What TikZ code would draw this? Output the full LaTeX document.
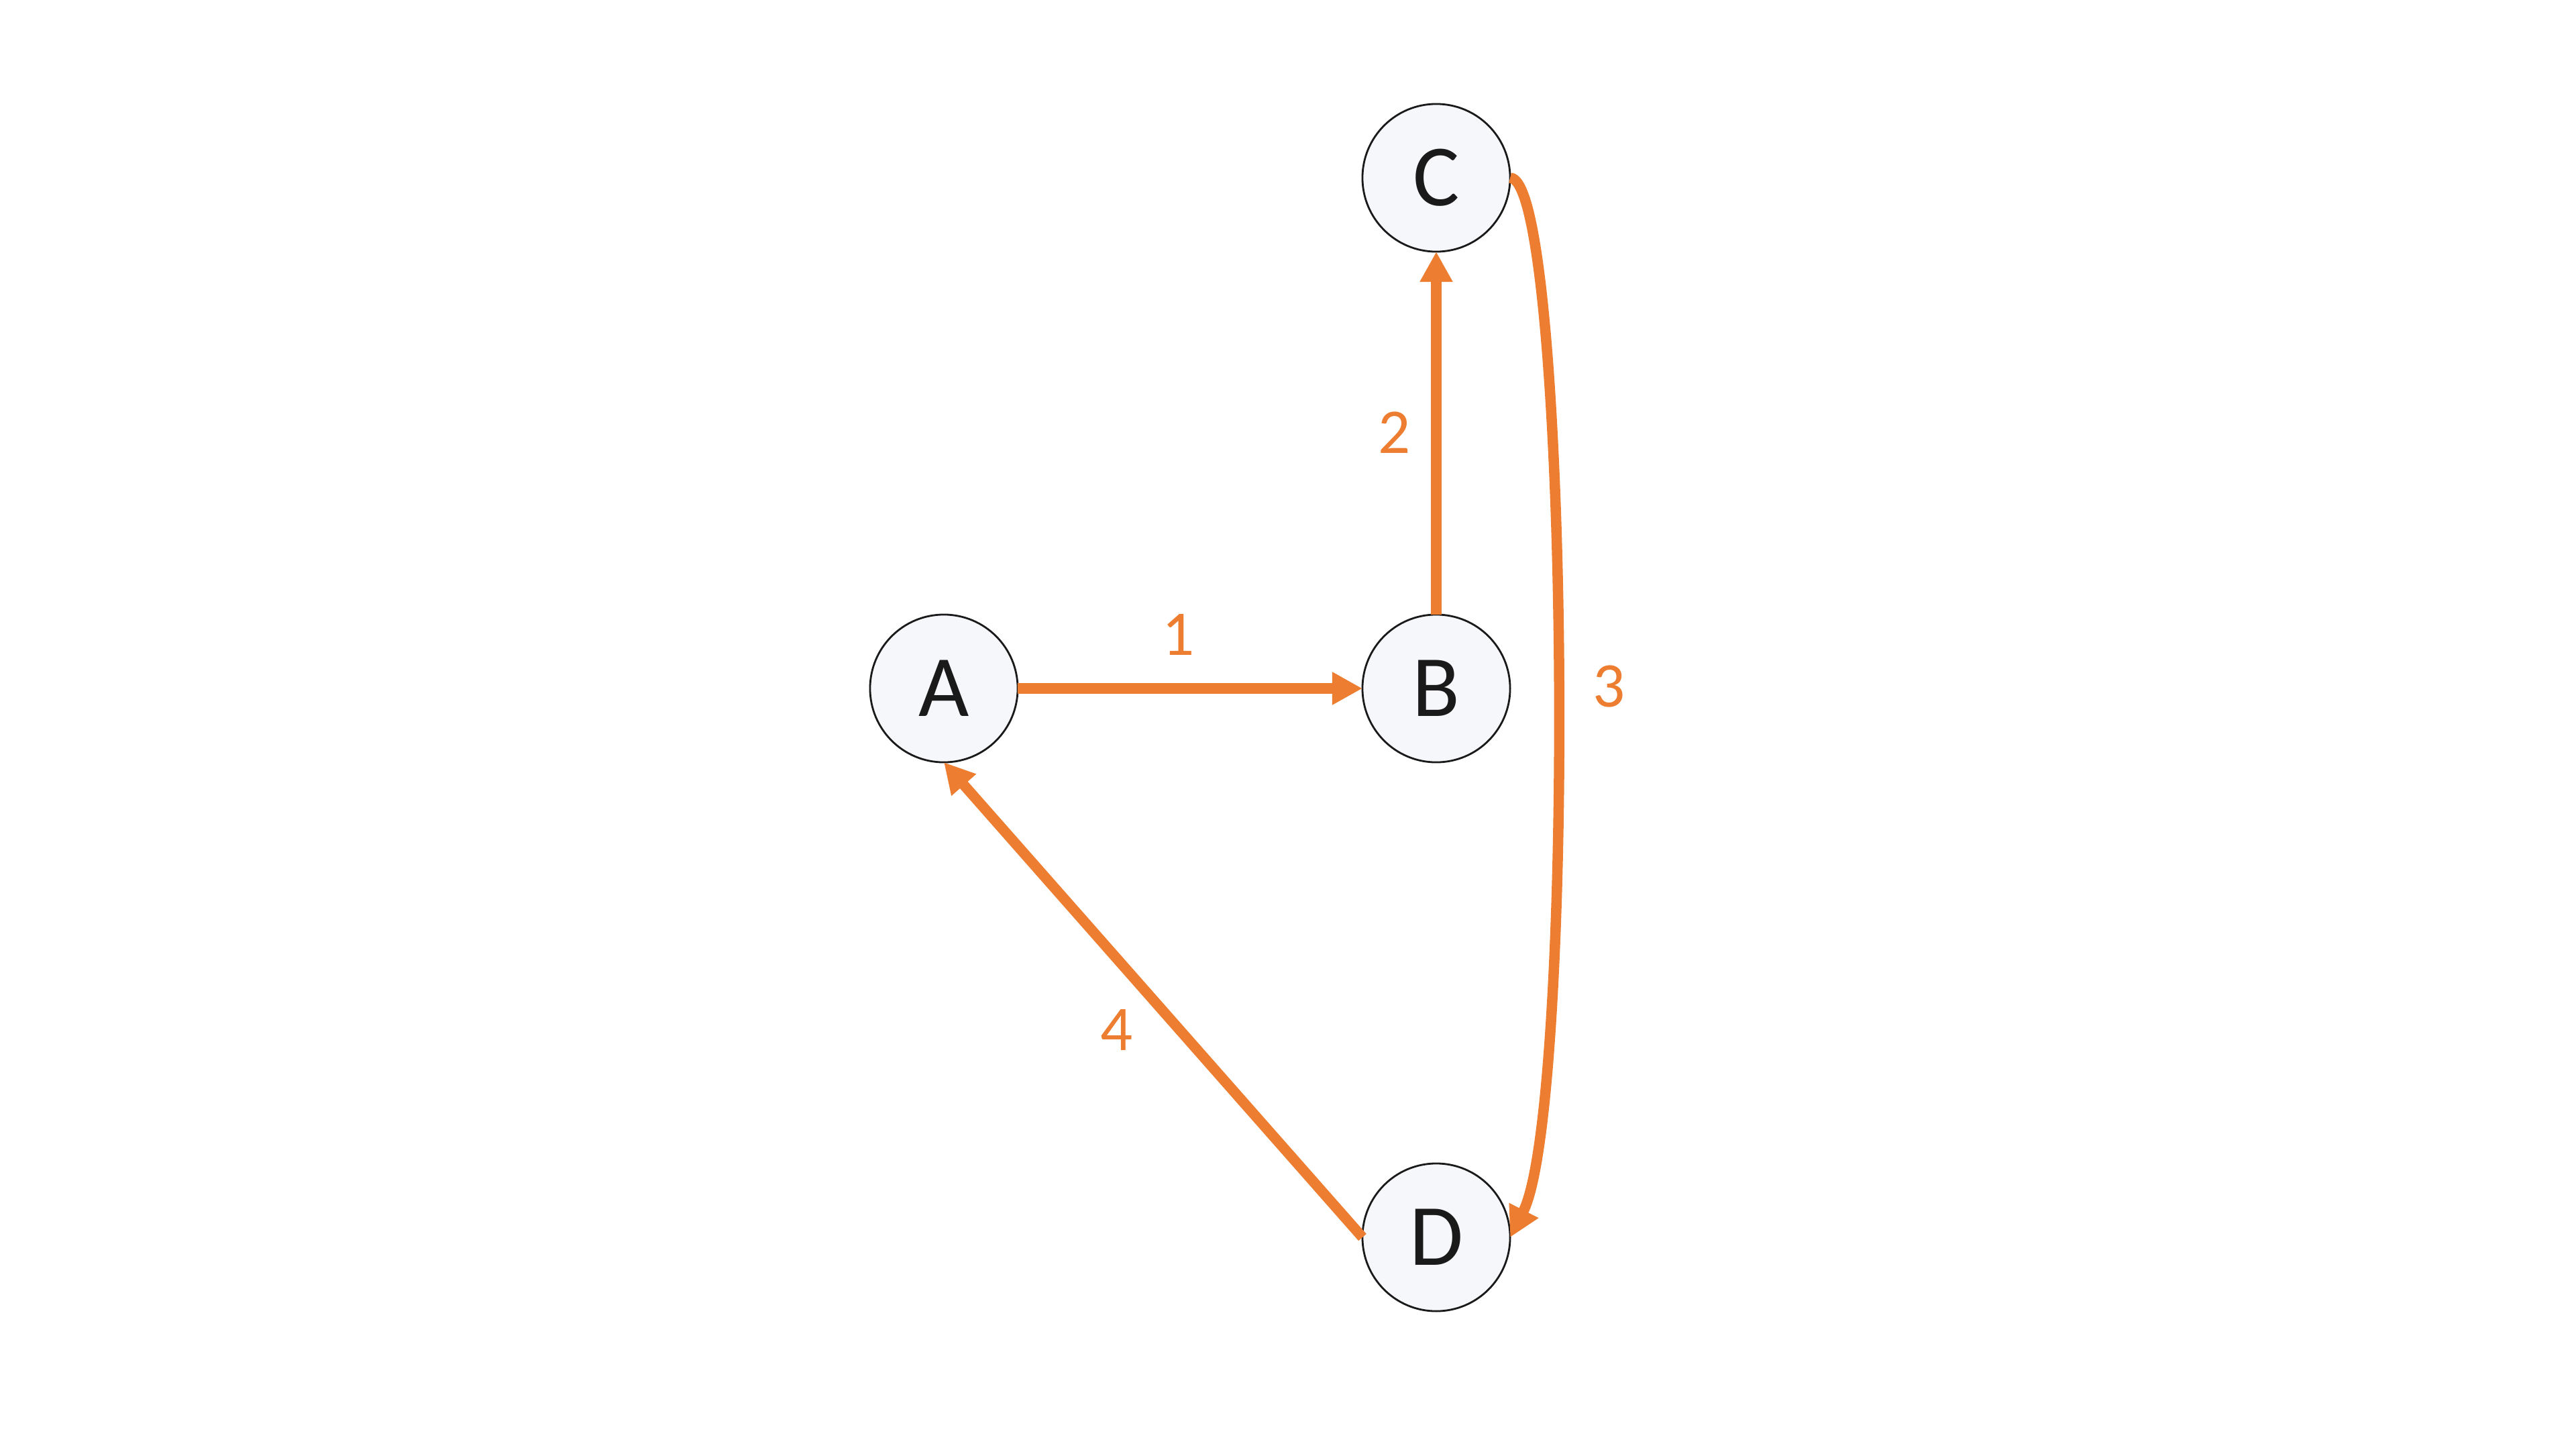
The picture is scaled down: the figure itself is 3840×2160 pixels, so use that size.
\documentclass[tikz,border=0pt]{standalone}
\usepackage{fontspec}
\setmainfont{Carlito}
\usetikzlibrary{arrows.meta}
\definecolor{edgeorange}{HTML}{ED7D31}
\definecolor{nodefill}{HTML}{F5F7FB}
\definecolor{inkblack}{HTML}{1A1A1A}
\begin{document}
\begin{tikzpicture}[x=0.01cm,y=-0.01cm,
  vertex/.style={circle,draw=inkblack,line width=0.8pt,fill=nodefill,minimum size=2.2cm,inner sep=0pt,outer sep=0pt,text=inkblack,font=\fontsize{37}{40}\selectfont},
  link/.style={draw=edgeorange,line width=0.155cm,-{Triangle[length=0.45cm,width=0.46cm]}},
  elabel/.style={text=edgeorange,inner sep=0pt,font=\fontsize{27}{30}\selectfont}]
\useasboundingbox (0,0) rectangle (3840,2160);
\node[vertex] (A) at (1407,1026) {A};
\node[vertex] (B) at (2141,1026) {B};
\node[vertex] (C) at (2141,265) {C};
\node[vertex] (D) at (2141,1844) {D};
\draw[link] (A.east) -- (B.west);
\draw[link] (B.north) -- (C.south);
\draw[link] (C.east) .. controls (2340,265) and (2350,1650) .. (D.east);
\draw[link] (D.west) -- (A.south);
\node[elabel] (l1) at (1757,946) {1};
\node[elabel] (l2) at (2079,645) {2};
\node[elabel] (l3) at (2399,1023) {3};
\node[elabel] (l4) at (1665,1535) {4};
\end{tikzpicture}
\end{document}
